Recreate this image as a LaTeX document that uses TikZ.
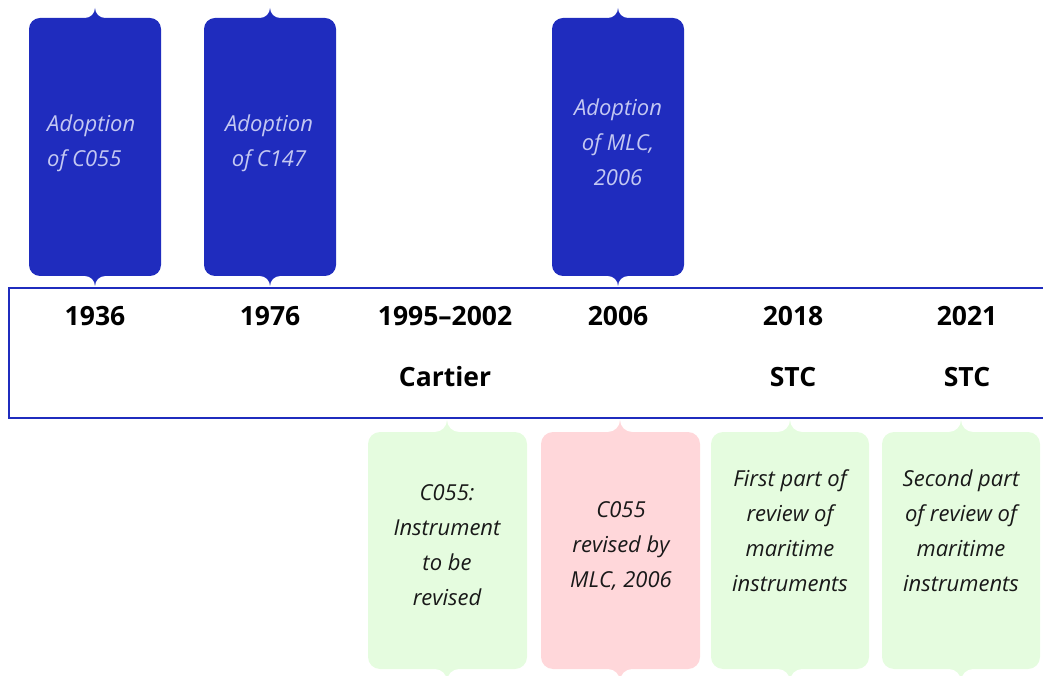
\documentclass[tikz,border=0pt]{standalone}
\usepackage{fontspec}
\setmainfont{Open Sans}
\definecolor{boxblue}{RGB}{31,44,190}
\definecolor{lavtext}{RGB}{196,200,242}
\definecolor{paleGreen}{RGB}{229,252,223}
\definecolor{palePink}{RGB}{255,215,218}
\newcommand{\tagbox}[8]{%
 % #1 X, #2 L, #3 R, #4 top, #5 bottom, #6 fill, #7 pointer radius, #8 corner radius
 \fill[#6] (#2,#4-#8) -- (#2,#5+#8) arc[start angle=180,end angle=270,radius=#8]
   -- (#1-#7,#5) arc[start angle=90,end angle=0,radius=#7]
   arc[start angle=180,end angle=90,radius=#7]
   -- (#3-#8,#5) arc[start angle=270,end angle=360,radius=#8]
   -- (#3,#4-#8) arc[start angle=0,end angle=90,radius=#8]
   -- (#1+#7,#4) arc[start angle=270,end angle=180,radius=#7]
   arc[start angle=0,end angle=-90,radius=#7]
   -- (#2+#8,#4) arc[start angle=90,end angle=180,radius=#8] -- cycle;}
\begin{document}
\begin{tikzpicture}[x=1pt,y=1pt,
  year/.style={font=\fontsize{26.5}{30}\selectfont\bfseries, text=black, inner sep=0pt},
  bluetxt/.style={font=\fontsize{22}{35}\selectfont\itshape, text=lavtext, align=center, inner sep=0pt},
  paletxt/.style={font=\fontsize{22}{35}\selectfont\itshape, text=black!90, align=center, inner sep=0pt}]
\useasboundingbox (0,0) rectangle (1043,675);
% top boxes
\tagbox{95}{29}{161}{657}{399}{boxblue}{10}{11}
\tagbox{270}{204}{336}{657}{399}{boxblue}{10}{11}
\tagbox{618}{552}{684}{657}{399}{boxblue}{10}{11}
% bottom boxes
\tagbox{447}{368}{527}{243}{6}{paleGreen}{12}{12}
\tagbox{620}{541}{700}{243}{6}{palePink}{12}{12}
\tagbox{790}{711}{869}{243}{6}{paleGreen}{12}{12}
\tagbox{961}{882}{1040}{243}{6}{paleGreen}{12}{12}
% timeline band
\draw[boxblue, line width=2pt] (1045,387) -- (9,387) -- (9,257) -- (1045,257);
% years
\node[year] (y1936) at (95,359) {1936};
\node[year] (y1976) at (270,359) {1976};
\node[year] (y1995) at (445,359) {1995–2002};
\node[year] (y2006) at (618,359) {2006};
\node[year] (y2018) at (793,359) {2018};
\node[year] (y2021) at (967,359) {2021};
\node[year] (cartier) at (445,298) {Cartier};
\node[year] (stcA) at (793,298) {STC};
\node[year] (stcB) at (967,298) {STC};
% blue texts
\node[bluetxt, align=left, anchor=west] (t1936) at (47,532) {Adoption\\of C055};
\node[bluetxt] (t1976) at (269,532) {Adoption\\of C147};
\node[bluetxt] (t2006) at (618,533) {Adoption\\of MLC,\\2006};
% bottom texts
\node[paletxt] (b1995) at (447,130) {C055:\\Instrument\\to be\\revised};
\node[paletxt] (b2006) at (621,129) {C055\\revised by\\MLC, 2006};
\node[paletxt] (b2018) at (790,144) {First part of\\review of\\maritime\\instruments};
\node[paletxt] (b2021) at (961,144) {Second part\\of review of\\maritime\\instruments};
\end{tikzpicture}
\end{document}
